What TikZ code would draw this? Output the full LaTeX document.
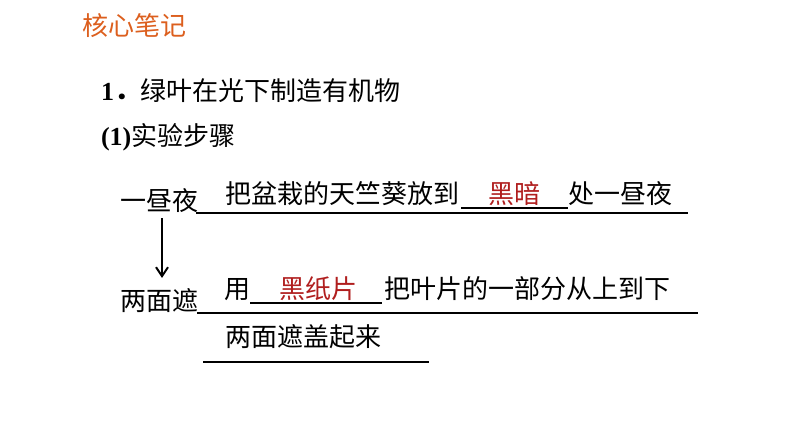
\documentclass[tikz,border=0pt]{standalone}
\usepackage{fontspec}
\setmainfont{Liberation Serif}
\newfontfamily\cjk{Noto Sans CJK SC}
\usetikzlibrary{arrows.meta}
\definecolor{titleorange}{HTML}{DC5F1E}
\definecolor{ansred}{HTML}{B01E1E}
\tikzset{
  txt/.style={inner sep=0pt, outer sep=0pt, anchor=base west, font=\cjk\fontsize{26}{30}\selectfont},
  ans/.style={txt, anchor=base, text=ansred},
  uline/.style={line width=1.3pt},
  flowarrow/.style={line width=2pt, -{Straight Barb[length=9pt,width=12pt]}}
}
\begin{document}
\begin{tikzpicture}[x=1pt,y=-1pt]
\useasboundingbox (0,0) rectangle (794,447);
% title
\node[txt, text=titleorange] (title) at (82,35) {核心笔记};
% heading
\node[txt] (h1) at (101,100) {{\rmfamily\bfseries 1}{\bfseries ．}绿叶在光下制造有机物};
\node[txt] (h2) at (101,145) {{\rmfamily\bfseries (1)}实验步骤};
% row 1
\node[txt] (a) at (120,210) {一昼夜};
\node[txt] (a1) at (225,203) {把盆栽的天竺葵放到};
\node[ans] (a2) at (514,203) {黑暗};
\node[txt] (a3) at (568,203) {处一昼夜};
\draw[uline] (461,208) -- (568,208);
\draw[uline] (196,213) -- (688,213);
% row 2
\node[txt] (b) at (120,310) {两面遮};
\node[txt] (b1) at (224,298) {用};
\node[ans] (b2) at (318,298) {黑纸片};
\node[txt] (b3) at (384,298) {把叶片的一部分从上到下};
\draw[uline] (250,303) -- (382,303);
\draw[uline] (197,313) -- (698,313);
% row 3
\node[txt] (c1) at (225,346) {两面遮盖起来};
\draw[uline] (203,362) -- (429,362);
% arrow
\draw[flowarrow] ([xshift=3pt,yshift=-6pt]a.south) -- ([xshift=3pt,yshift=10pt]b.north);
\end{tikzpicture}
\end{document}
